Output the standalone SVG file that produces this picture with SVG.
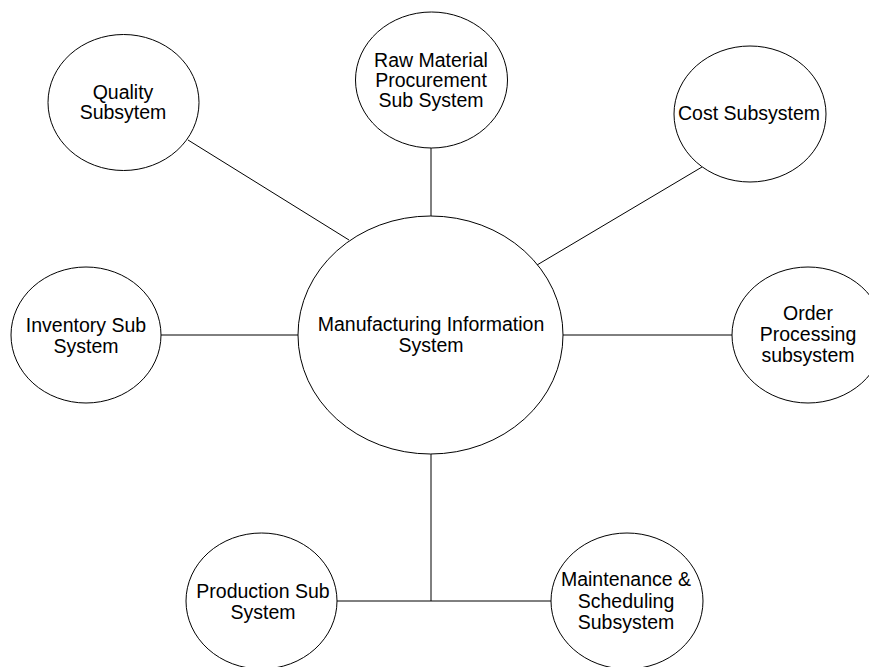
<svg xmlns="http://www.w3.org/2000/svg" width="869" height="667" viewBox="0 0 869 667">
<style>
.n{fill:#fff;stroke:#000;stroke-width:1}
.c{stroke:#000;stroke-width:1;fill:none}
text{font-family:"Liberation Sans",Arial,sans-serif;font-size:19.5px;fill:#000;text-anchor:middle}
</style>
<rect width="869" height="667" fill="#fff"/>
<g id="connectors">
<line class="c" x1="188" y1="140" x2="349" y2="240"/>
<line class="c" x1="431" y1="148" x2="431" y2="216"/>
<line class="c" x1="702" y1="167" x2="537" y2="265"/>
<line class="c" x1="161" y1="335" x2="298" y2="335"/>
<line class="c" x1="563" y1="335" x2="732" y2="335"/>
<line class="c" x1="431" y1="454" x2="431" y2="601"/>
<line class="c" x1="337" y1="601" x2="551" y2="601"/>
</g>
<g id="main">
<ellipse class="n" cx="430.5" cy="335" rx="132.5" ry="119"/>
<text x="431" y="331">Manufacturing Information</text>
<text x="431" y="352">System</text>
</g>
<g id="quality">
<ellipse class="n" cx="123.5" cy="102.5" rx="75.5" ry="68"/>
<text x="123" y="99">Quality</text>
<text x="123" y="119">Subsytem</text>
</g>
<g id="raw">
<ellipse class="n" cx="431.5" cy="80" rx="76" ry="68"/>
<text x="431" y="67">Raw Material</text>
<text x="431" y="87">Procurement</text>
<text x="431" y="107">Sub System</text>
</g>
<g id="cost">
<ellipse class="n" cx="750" cy="114" rx="76" ry="68"/>
<text x="749" y="120">Cost Subsystem</text>
</g>
<g id="inventory">
<ellipse class="n" cx="86" cy="335" rx="75" ry="68"/>
<text x="86" y="332">Inventory Sub</text>
<text x="86" y="353">System</text>
</g>
<g id="order">
<ellipse class="n" cx="808" cy="335" rx="76" ry="68"/>
<text x="808" y="320">Order</text>
<text x="808" y="341">Processing</text>
<text x="808" y="362">subsystem</text>
</g>
<g id="production">
<ellipse class="n" cx="261.5" cy="601" rx="75.5" ry="68"/>
<text x="263" y="598">Production Sub</text>
<text x="263" y="619">System</text>
</g>
<g id="maintenance">
<ellipse class="n" cx="627" cy="601" rx="76" ry="68"/>
<text x="626" y="586">Maintenance &amp;</text>
<text x="626" y="608">Scheduling</text>
<text x="626" y="629">Subsystem</text>
</g>
</svg>
